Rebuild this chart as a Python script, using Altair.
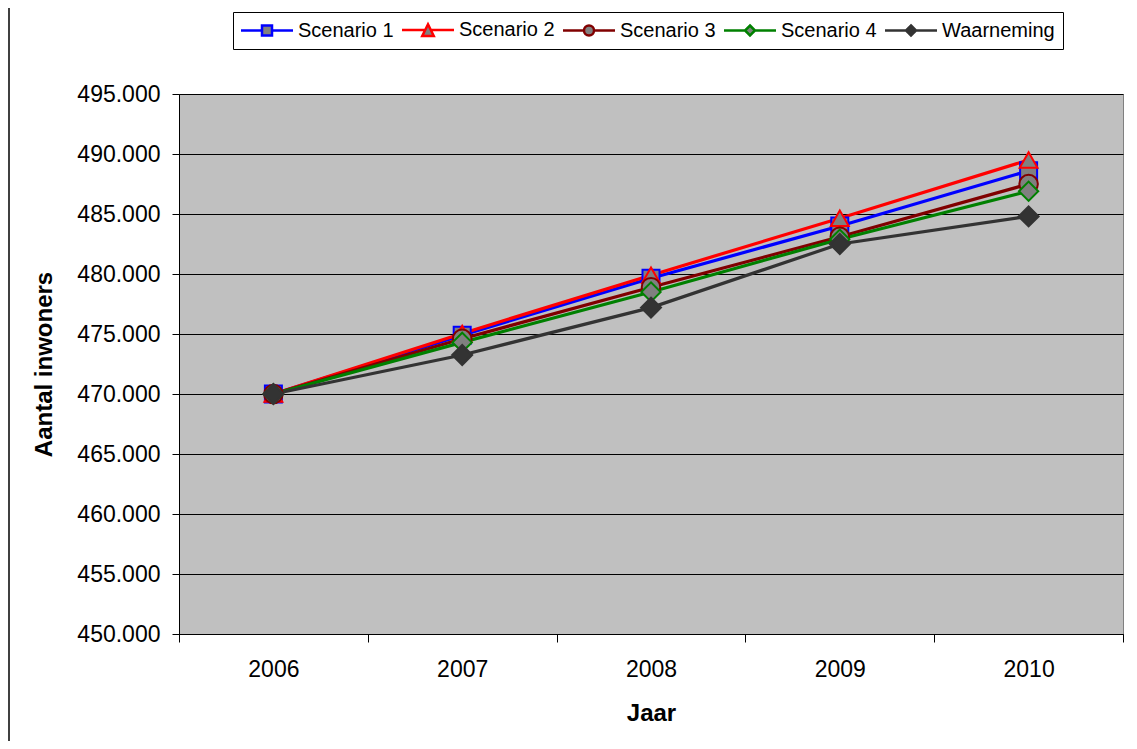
import altair as alt
import pandas as pd

years = ["2006", "2007", "2008", "2009", "2010"]
series_names = ["Scenario 1", "Scenario 2", "Scenario 3", "Scenario 4", "Waarneming"]
scenario_1 = [470000, 474900, 479650, 484000, 488600]
scenario_2 = [470000, 475050, 479900, 484650, 489500]
scenario_3 = [470000, 474600, 478900, 483100, 487500]
scenario_4 = [470000, 474300, 478500, 482900, 486900]
waarneming = [470000, 473250, 477200, 482500, 484800]
y_ticks = [450000, 455000, 460000, 465000, 470000, 475000, 480000, 485000, 490000, 495000]

line_colors = ["#0000FF", "#FF0000", "#800000", "#008000", "#333333"]
marker_fills = ["#808080", "#808080", "#808080", "#808080", "#333333"]
plot_shapes = ["square", "triangle-up", "circle", "diamond", "diamond"]
marker_sizes = [289, 400, 289, 340, 350]
legend_shapes = [
    "M-1,-1H1V1H-1Z M-5.2,0H-1 M1,0H5.2",
    "M0,-1.15L1.15,1.2L-1.15,1.2Z M-5.2,0H-0.56 M0.56,0H5.2",
    "M1,0A1,1,0,1,1,-1,0A1,1,0,1,1,1,0Z M-5.2,0H-1 M1,0H5.2",
    "M0,-1L1,0L0,1L-1,0Z M-5.2,0H-1 M1,0H5.2",
    "M0,-1L1,0L0,1L-1,0Z M-5.2,0H-1 M1,0H5.2",
]

all_values = [scenario_1, scenario_2, scenario_3, scenario_4, waarneming]
rows = []
for name, vals in zip(series_names, all_values):
    for yr, v in zip(years, vals):
        rows.append({"series": name, "year": yr, "value": v})
df = pd.DataFrame(rows)

FONT = "Liberation Sans"

x_enc = alt.X(
    "year:O",
    scale=alt.Scale(type="band", domain=years, paddingInner=0, paddingOuter=0),
    axis=alt.Axis(
        title="Jaar", tickBand="extent", tickSize=8, labelPadding=16,
        labelFontSize=23, labelAngle=0, titleFontSize=24, titleFontWeight="bold",
        titlePadding=20, grid=False,
    ),
)
y_enc = alt.Y(
    "value:Q",
    scale=alt.Scale(domain=[450000, 495000], nice=False, zero=False),
    axis=alt.Axis(
        title="Aantal inwoners", values=y_ticks, tickSize=7, labelPadding=12,
        labelFontSize=23, titleFontSize=24, titleFontWeight="bold", titlePadding=20,
        labelExpr="replace(format(datum.value, ','), ',', '.')", grid=True,
    ),
)

base = alt.Chart(df)

lines = base.mark_line(strokeWidth=3.2).encode(
    x=x_enc, y=y_enc,
    color=alt.Color("series:N", scale=alt.Scale(domain=series_names, range=line_colors), legend=None),
)

points = base.mark_point(filled=True, opacity=1, strokeWidth=2).encode(
    x=x_enc, y=y_enc,
    shape=alt.Shape("series:N", scale=alt.Scale(domain=series_names, range=plot_shapes), legend=None),
    fill=alt.Fill("series:N", scale=alt.Scale(domain=series_names, range=marker_fills), legend=None),
    stroke=alt.Stroke("series:N", scale=alt.Scale(domain=series_names, range=line_colors), legend=None),
    size=alt.Size("series:N", scale=alt.Scale(domain=series_names, range=marker_sizes), legend=None),
)

leg = alt.Legend(
    title=None, orient="none", legendX=54, legendY=-82, direction="horizontal",
    columns=5, symbolSize=100, symbolStrokeWidth=2.5, symbolOffset=16,
    labelOffset=21, columnPadding=3, labelFontSize=20, labelFont=FONT,
    labelColor="black", strokeColor="black", fillColor="white", padding=8,
)

legend_layer = base.mark_point(filled=True, opacity=1).encode(
    x=x_enc, y=y_enc,
    shape=alt.Shape("series:N", scale=alt.Scale(domain=series_names, range=legend_shapes), legend=leg),
    fill=alt.Fill("series:N", scale=alt.Scale(domain=series_names, range=marker_fills), legend=leg),
    stroke=alt.Stroke("series:N", scale=alt.Scale(domain=series_names, range=line_colors), legend=leg),
).transform_filter("false")

frame = alt.Chart(pd.DataFrame({"a": [0]})).mark_rule(color="black", strokeWidth=1.5).encode(
    x=alt.value(-170), y=alt.value(-100), y2=alt.value(700)
)

chart = alt.layer(frame, lines, points, legend_layer).resolve_scale(
    shape="independent", fill="independent", stroke="independent", size="independent"
).properties(
    width=944, height=540,
    padding={"left": 171, "top": 86, "right": 6, "bottom": 107},
    autosize=alt.AutoSizeParams(type="none"),
    background="white",
).configure_view(
    fill="#C0C0C0", stroke="#808080", strokeWidth=1,
).configure_axis(
    labelFont=FONT, titleFont=FONT, labelColor="black", titleColor="black",
    domainColor="black", tickColor="black", gridColor="black", gridWidth=1,
    domainWidth=1, tickWidth=1,
)

chart.save("out.html", embed_options={"renderer": "svg", "actions": False})
